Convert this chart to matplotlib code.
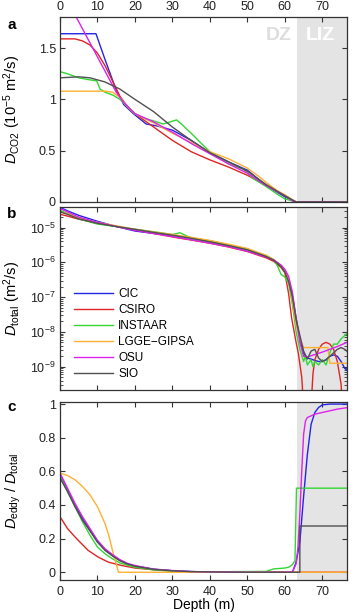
import numpy as np
import matplotlib
matplotlib.use("Agg")
import matplotlib.pyplot as plt
from matplotlib.ticker import FixedLocator, LogLocator, NullFormatter, LogFormatterMathtext

plt.rcParams['font.family'] = ['Liberation Sans', 'DejaVu Sans']
plt.rcParams['mathtext.fontset'] = 'custom'
plt.rcParams['mathtext.rm'] = 'Liberation Sans'
plt.rcParams['mathtext.it'] = 'Liberation Sans:italic'
plt.rcParams['mathtext.bf'] = 'Liberation Sans:bold'

models = ['CIC', 'CSIRO', 'INSTAAR', 'LGGE\u2212GIPSA', 'OSU', 'SIO']
colors = ['#2424e6', '#e02424', '#33d633', '#ffb030', '#dd22ee', '#505050']
liz_start = 63.2

# panel a: D_CO2 (1e-5 m2/s)
a_cic_d = [0, 9.6, 12, 15, 17, 19.6, 23, 26, 30, 35, 40, 45, 50, 55, 60, 63, 77]
a_cic_v = [1.64, 1.64, 1.39, 1.09, 0.95, 0.86, 0.76, 0.74, 0.70, 0.60, 0.48, 0.39, 0.31, 0.16, 0.05, 0, 0]
a_csiro_d = [0, 4, 6, 8, 10, 12, 14, 16, 18, 20, 25, 30, 35, 40, 45, 50, 55, 60, 62, 63, 77]
a_csiro_v = [1.59, 1.59, 1.57, 1.53, 1.45, 1.33, 1.18, 1.03, 0.93, 0.86, 0.73, 0.60, 0.49, 0.41, 0.34, 0.26, 0.16, 0.065, 0.02, 0, 0]
a_instaar_d = [0, 2, 5, 8, 9.8, 10.7, 12, 14.2, 16, 18, 20, 23, 25, 27.5, 29.3, 31.1, 32.4, 35, 38, 40, 43, 45, 48.9, 51.5, 55, 57.8, 60, 62, 63, 77]
a_instaar_v = [1.27, 1.25, 1.21, 1.19, 1.18, 1.10, 1.07, 1.04, 1.00, 0.93, 0.86, 0.81, 0.79, 0.76, 0.78, 0.80, 0.76, 0.67, 0.56, 0.49, 0.42, 0.37, 0.32, 0.23, 0.15, 0.08, 0.03, 0.01, 0, 0]
a_lgge_d = [0, 12, 14, 16, 18, 20, 25, 30, 35, 40, 45, 50, 53, 55, 58, 60, 63, 77]
a_lgge_v = [1.08, 1.08, 1.07, 1.02, 0.93, 0.86, 0.77, 0.67, 0.58, 0.49, 0.42, 0.33, 0.25, 0.19, 0.11, 0.07, 0, 0]
a_osu_d = [0, 15, 17, 20, 25, 30, 35, 40, 45, 50, 55, 60, 62.5, 77]
a_osu_v = [2.10, 1.07, 0.97, 0.86, 0.78, 0.68, 0.57, 0.47, 0.37, 0.28, 0.16, 0.06, 0, 0]
a_sio_d = [0, 5, 8, 12, 16, 20, 25, 30, 35, 40, 45, 50, 55, 60, 63, 77]
a_sio_v = [1.21, 1.22, 1.21, 1.17, 1.10, 1.00, 0.88, 0.73, 0.60, 0.48, 0.39, 0.30, 0.17, 0.06, 0, 0]

# panel b: log10 of D_total (m2/s)
b_cic_d = [0, 2, 5, 10, 15, 20, 25, 30, 35, 40, 45, 50, 55, 57, 59, 60, 61, 62, 63, 64, 65, 66, 67, 68, 69, 70, 71, 72, 73, 74, 75, 76, 77]
b_cic_v = [-4.42, -4.52, -4.65, -4.82, -4.97, -5.1, -5.17, -5.22, -5.3, -5.4, -5.5, -5.63, -5.82, -5.93, -6.1, -6.25, -6.5, -6.95, -7.6, -8.2, -8.62, -8.75, -8.78, -8.82, -8.85, -8.85, -8.8, -8.7, -8.66, -8.7, -8.85, -9.05, -9.15]
b_csiro_d = [0, 2, 5, 10, 15, 20, 25, 30, 35, 40, 45, 50, 55, 57, 59, 60, 61, 61.8, 63, 63.6, 64.5, 65.2, 66.8, 67.5, 68, 69, 70, 71, 72, 73, 74, 75, 75.5, 77]
b_csiro_v = [-4.62, -4.67, -4.76, -4.87, -4.97, -5.07, -5.17, -5.27, -5.36, -5.45, -5.56, -5.69, -5.87, -5.97, -6.15, -6.3, -6.9, -7.6, -8.3, -8.62, -9.3, -10.5, -10.5, -9.2, -8.8, -8.5, -8.35, -8.3, -8.35, -8.5, -8.85, -9.5, -10.5, -10.5]
b_instaar_d = [0, 2, 5, 10, 15, 20, 25, 30, 32, 35, 40, 45, 50, 55, 57, 58, 59, 60, 61, 62, 63, 64, 65, 65.5, 66, 67, 67.5, 68, 69, 70, 71, 72, 73, 74, 75, 76, 77]
b_instaar_v = [-4.5, -4.6, -4.75, -4.9, -4.97, -5.05, -5.12, -5.2, -5.15, -5.3, -5.38, -5.5, -5.63, -5.8, -5.92, -6.1, -6.35, -6.42, -6.6, -7.2, -8.0, -8.5, -8.85, -8.7, -8.95, -8.8, -9.0, -8.85, -8.95, -8.8, -8.95, -8.6, -8.35, -8.35, -8.2, -8.1, -8.0]
b_lgge_d = [0, 2, 5, 10, 15, 20, 25, 30, 35, 40, 45, 50, 55, 57, 59, 60, 61, 62, 63, 64, 65, 71.5, 72, 77]
b_lgge_v = [-4.55, -4.6, -4.72, -4.85, -4.95, -5.05, -5.13, -5.2, -5.28, -5.37, -5.48, -5.6, -5.8, -5.92, -6.1, -6.25, -6.5, -7.1, -7.8, -8.2, -8.45, -8.45, -8.9, -8.9]
b_osu_d = [0, 2, 5, 10, 15, 20, 25, 30, 35, 40, 45, 50, 55, 57, 59, 60, 61, 62, 63, 64, 65, 66, 68, 70, 72, 74, 77]
b_osu_v = [-4.45, -4.55, -4.7, -4.85, -4.97, -5.08, -5.17, -5.26, -5.35, -5.45, -5.55, -5.68, -5.85, -5.93, -6.08, -6.2, -6.4, -6.85, -7.6, -8.3, -8.7, -8.72, -8.65, -8.58, -8.5, -8.42, -8.28]
b_sio_d = [0, 2, 5, 10, 15, 20, 25, 30, 35, 40, 45, 50, 55, 57, 59, 60, 61, 62, 63, 64, 65, 66, 67, 68, 69, 70, 71, 72, 73, 74, 75, 76, 77]
b_sio_v = [-4.55, -4.62, -4.75, -4.88, -4.97, -5.05, -5.14, -5.22, -5.31, -5.41, -5.52, -5.64, -5.83, -5.94, -6.12, -6.28, -6.55, -7.0, -7.65, -8.1, -8.55, -8.78, -8.55, -8.5, -8.75, -8.85, -8.8, -8.7, -8.6, -8.5, -8.45, -8.5, -8.6]

# panel c: D_eddy / D_total
c_cic_d = [0, 2, 4, 6, 8, 10, 12, 14, 16, 18, 20, 25, 30, 35, 40, 50, 62, 63, 64, 65, 66, 67, 68, 69, 70, 72, 77]
c_cic_v = [0.58, 0.49, 0.40, 0.32, 0.25, 0.18, 0.135, 0.10, 0.07, 0.05, 0.037, 0.018, 0.009, 0.004, 0.002, 0, 0, 0.06, 0.18, 0.45, 0.70, 0.88, 0.95, 0.98, 0.995, 1.0, 1.0]
c_csiro_d = [0, 2, 4, 7.5, 10.2, 12.9, 16.5, 20, 25, 30, 36, 77]
c_csiro_v = [0.33, 0.26, 0.21, 0.13, 0.09, 0.06, 0.04, 0.025, 0.015, 0.008, 0, 0]
c_instaar_d = [0, 2, 4, 6, 8, 10, 12, 14, 16, 20, 25, 30, 35, 55, 57, 60, 61, 62, 62.7, 63.1, 77]
c_instaar_v = [0.57, 0.48, 0.39, 0.30, 0.22, 0.15, 0.11, 0.08, 0.055, 0.03, 0.014, 0.006, 0.002, 0.005, 0.02, 0.025, 0.03, 0.045, 0.07, 0.5, 0.5]
c_lgge_d = [0, 2, 4, 6, 8, 10, 12, 13, 14, 15, 15.6, 77]
c_lgge_v = [0.59, 0.575, 0.55, 0.51, 0.46, 0.39, 0.29, 0.22, 0.13, 0.05, 0, 0]
c_osu_d = [0, 2, 4, 6, 8, 10, 12, 14, 16, 18, 20, 25, 30, 35, 40, 50, 62, 63, 63.5, 64, 64.5, 65, 65.5, 66, 68, 70, 74, 77]
c_osu_v = [0.59, 0.50, 0.41, 0.33, 0.26, 0.19, 0.14, 0.105, 0.075, 0.053, 0.04, 0.019, 0.01, 0.004, 0.002, 0, 0, 0.05, 0.15, 0.35, 0.6, 0.82, 0.9, 0.92, 0.94, 0.95, 0.97, 0.98]
c_sio_d = [0, 2, 4, 6, 8, 10, 12, 14, 16, 18, 20, 25, 30, 35, 40, 50, 64, 64, 77]
c_sio_v = [0.56, 0.48, 0.39, 0.31, 0.245, 0.18, 0.13, 0.097, 0.068, 0.049, 0.036, 0.017, 0.009, 0.004, 0.002, 0, 0, 0.275, 0.275]

panel_a = [(a_cic_d, a_cic_v), (a_csiro_d, a_csiro_v), (a_instaar_d, a_instaar_v),
           (a_lgge_d, a_lgge_v), (a_osu_d, a_osu_v), (a_sio_d, a_sio_v)]
panel_b = [(b_cic_d, b_cic_v), (b_csiro_d, b_csiro_v), (b_instaar_d, b_instaar_v),
           (b_lgge_d, b_lgge_v), (b_osu_d, b_osu_v), (b_sio_d, b_sio_v)]
panel_c = [(c_cic_d, c_cic_v), (c_csiro_d, c_csiro_v), (c_instaar_d, c_instaar_v),
           (c_lgge_d, c_lgge_v), (c_osu_d, c_osu_v), (c_sio_d, c_sio_v)]

fig = plt.figure(figsize=(3.54, 6.12), dpi=100)
ax_a = fig.add_axes([0.1695, 0.670, 0.812, 0.3017])
ax_b = fig.add_axes([0.1695, 0.3627, 0.812, 0.2996])
ax_c = fig.add_axes([0.1695, 0.0523, 0.812, 0.2913])

xmax = 76.7
for ax in (ax_a, ax_b, ax_c):
    ax.axvspan(liz_start, 80, color='#e4e4e4', lw=0, zorder=0)
    ax.set_xlim(0, xmax)
    ax.set_xticks(range(0, 80, 10))
    ax.tick_params(direction='in', length=3.5, top=True, right=True, labelsize=9,
                   color='#333333', labelcolor='#222222', pad=3)
    ax.tick_params(which='minor', direction='in', length=2, top=False, right=True, color='#333333')
    for s in ax.spines.values():
        s.set_color('#333333')
        s.set_linewidth(0.9)

for ax, data in ((ax_a, panel_a), (ax_c, panel_c)):
    for (d, v), c, name in zip(data, colors, models):
        ax.plot(d, v, color=c, lw=1.0, label=name)
for (d, v), c, name in zip(panel_b, colors, models):
    ax_b.plot(d, 10.0 ** np.array(v), color=c, lw=1.0, label=name)

# panel a
ax_a.set_ylim(0, 1.8)
ax_a.set_yticks([0, 0.5, 1, 1.5])
ax_a.set_yticklabels(['0', '0.5', '1', '1.5'])
ax_a.tick_params(labeltop=True, labelbottom=False)
ax_a.set_ylabel(r'$D_{\rm CO2}$ (10$^{-5}$ m$^2$/s)', fontsize=10.5)
ax_a.yaxis.set_label_coords(-0.13, 0.5)
ax_a.text(58.5, 1.62, 'DZ', color='#dedede', fontsize=14, weight='bold', ha='center', va='center')
ax_a.text(69.5, 1.62, 'LIZ', color='white', fontsize=14, weight='bold', ha='center', va='center')

# panel b
ax_b.set_yscale('log')
ax_b.set_ylim(10 ** -9.67, 10 ** -4.4)
ax_b.yaxis.set_major_locator(FixedLocator([1e-9, 1e-8, 1e-7, 1e-6, 1e-5]))
ax_b.yaxis.set_major_formatter(LogFormatterMathtext())
ax_b.yaxis.set_minor_locator(LogLocator(base=10, subs=np.arange(2, 10), numticks=20))
ax_b.yaxis.set_minor_formatter(NullFormatter())
ax_b.tick_params(labelbottom=False)
ax_b.set_ylabel(r'$D_{\rm total}$ (m$^2$/s)', fontsize=10.5)
ax_b.yaxis.set_label_coords(-0.13, 0.5)
ax_b.legend(loc='upper left', bbox_to_anchor=(0.05, 0.555), frameon=False, fontsize=8.5,
            handlelength=3.3, handletextpad=0.4, labelspacing=0.33, borderpad=0, borderaxespad=0)

# panel c
ax_c.set_ylim(-0.046, 1.014)
ax_c.set_yticks([0, 0.2, 0.4, 0.6, 0.8, 1])
ax_c.set_yticklabels(['0', '0.2', '0.4', '0.6', '0.8', '1'])
ax_c.tick_params(axis='x', pad=4.5)
ax_c.set_ylabel(r'$D_{\rm eddy}$ / $D_{\rm total}$', fontsize=10.5)
ax_c.yaxis.set_label_coords(-0.13, 0.5)
ax_c.set_xlabel('Depth (m)', fontsize=10, labelpad=0)

for lab, y in (('a', 25), ('b', 214), ('c', 407)):
    fig.text(12 / 354, 1 - y / 612, lab, fontsize=11, weight='bold', ha='center', va='center')

fig.savefig('out.png', dpi=100)
